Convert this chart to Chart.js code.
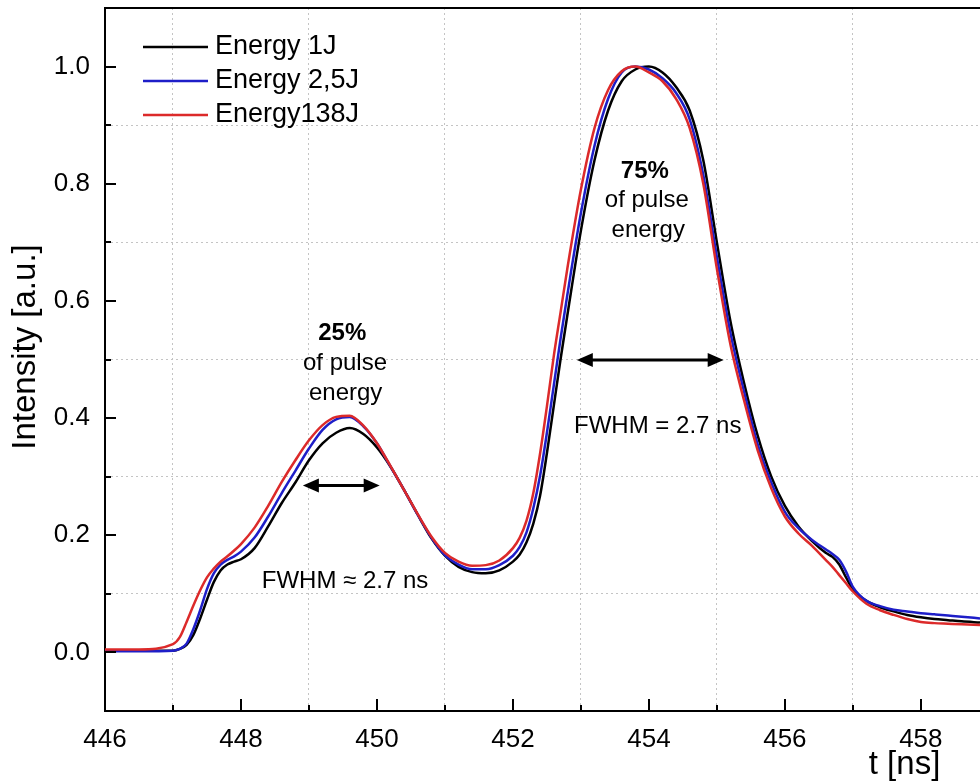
<!DOCTYPE html>
<html>
<head>
<meta charset="utf-8">
<script src="https://cdn.jsdelivr.net/npm/chart.js@4.4.1/dist/chart.umd.min.js"></script>
<style>
  html, body { margin: 0; padding: 0; background: #fff; overflow: hidden; }
  canvas { display: block; }
</style>
</head>
<body>
<canvas id="pulse" width="980" height="781"></canvas>
<script>
// Time axis of the scope traces, ns
const times = [
  446.0, 446.5, 447.0, 447.1, 447.2, 447.3, 447.4, 447.5, 447.6, 447.7, 447.8, 447.9,
  448.0, 448.2, 448.4, 448.6, 448.8, 449.0, 449.2, 449.4, 449.6, 449.8,
  450.0, 450.2, 450.4, 450.6, 450.8, 451.0, 451.2, 451.4, 451.6, 451.8,
  452.0, 452.1, 452.2, 452.3, 452.4, 452.5, 452.6, 452.7, 452.8, 453.0, 453.2, 453.4, 453.6, 453.8,
  454.0, 454.2, 454.4, 454.6, 454.8, 455.0, 455.2, 455.4, 455.6, 455.8,
  456.0, 456.2, 456.4, 456.6, 456.7, 456.8, 456.9, 457.0, 457.2, 457.4, 457.6, 457.8,
  458.0, 458.2, 458.4, 458.6, 458.87
];

// Normalised intensity, one array per pulse energy
const energy1J = [
  0.003, 0.003, 0.003, 0.006, 0.013, 0.030, 0.058, 0.090, 0.120, 0.140, 0.150, 0.155,
  0.159, 0.178, 0.215, 0.255, 0.290, 0.328, 0.357, 0.375, 0.383, 0.373,
  0.350, 0.317, 0.277, 0.235, 0.195, 0.165, 0.146, 0.137, 0.135, 0.140,
  0.155, 0.167, 0.188, 0.220, 0.268, 0.340, 0.420, 0.500, 0.575, 0.720, 0.840, 0.925, 0.975, 0.995,
  1.000, 0.990, 0.965, 0.925, 0.840, 0.700, 0.565, 0.460, 0.370, 0.300,
  0.250, 0.215, 0.190, 0.170, 0.163, 0.150, 0.128, 0.108, 0.088, 0.077, 0.070, 0.064,
  0.060, 0.057, 0.055, 0.053, 0.051
];
const energy2_5J = [
  0.002, 0.002, 0.003, 0.006, 0.015, 0.040, 0.072, 0.108, 0.135, 0.150, 0.158, 0.164,
  0.172, 0.196, 0.232, 0.272, 0.310, 0.348, 0.380, 0.398, 0.402, 0.386,
  0.357, 0.317, 0.277, 0.235, 0.196, 0.166, 0.150, 0.142, 0.142, 0.149,
  0.165, 0.180, 0.205, 0.246, 0.302, 0.375, 0.455, 0.535, 0.610, 0.750, 0.865, 0.945, 0.990, 1.000,
  0.995, 0.980, 0.955, 0.910, 0.815, 0.675, 0.545, 0.445, 0.355, 0.290,
  0.240, 0.212, 0.192, 0.176, 0.168, 0.158, 0.138, 0.112, 0.088, 0.079, 0.073, 0.070,
  0.067, 0.065, 0.063, 0.061, 0.058
];
const energy138J = [
  0.005, 0.005, 0.014, 0.026, 0.052, 0.080, 0.106, 0.128, 0.143, 0.155, 0.164, 0.174,
  0.185, 0.213, 0.250, 0.291, 0.328, 0.362, 0.388, 0.402, 0.404, 0.387,
  0.357, 0.318, 0.277, 0.236, 0.198, 0.170, 0.155, 0.148, 0.149, 0.157,
  0.178, 0.196, 0.225, 0.272, 0.340, 0.420, 0.505, 0.580, 0.655, 0.790, 0.895, 0.960, 0.992, 1.000,
  0.990, 0.975, 0.945, 0.895, 0.800, 0.655, 0.525, 0.430, 0.345, 0.280,
  0.232, 0.203, 0.182, 0.158, 0.146, 0.132, 0.118, 0.104, 0.083, 0.072, 0.064, 0.057,
  0.052, 0.050, 0.049, 0.048, 0.047
];

const seriesLabels = ['Energy 1J', 'Energy 2,5J', 'Energy138J'];

// Tick positions: even ns / even tenths are labelled, the others are minor
const xTickValues = [446, 447, 448, 449, 450, 451, 452, 453, 454, 455, 456, 457, 458];
const yTickValues = [0.0, 0.1, 0.2, 0.3, 0.4, 0.5, 0.6, 0.7, 0.8, 0.9, 1.0];

// Text notes and FWHM arrows, in data units
const notes = [
  { text: '25%', x: 449.49, y: 0.545, bold: true },
  { text: 'of pulse', x: 449.53, y: 0.494 },
  { text: 'energy', x: 449.54, y: 0.443 },
  { text: 'FWHM \u2248 2.7 ns', x: 449.53, y: 0.121 },
  { text: '75%', x: 453.94, y: 0.821, bold: true },
  { text: 'of pulse', x: 453.97, y: 0.771 },
  { text: 'energy', x: 453.99, y: 0.720 },
  { text: 'FWHM = 2.7 ns', x: 454.13, y: 0.385 }
];
const fwhmArrows = [
  { from: 448.91, to: 450.04, level: 0.285 },
  { from: 452.94, to: 455.10, level: 0.499 }
];

const FONT = '"Liberation Sans", Arial, Helvetica, sans-serif';
const colors = ['#000000', '#1e1ec8', '#dc2a2a'];
const seriesData = [energy1J, energy2_5J, energy138J];

const datasets = seriesData.map((vals, i) => ({
  label: seriesLabels[i],
  data: times.map((t, k) => ({ x: t, y: vals[k] })),
  borderColor: colors[i],
  backgroundColor: colors[i],
  borderWidth: 2.5,
  pointRadius: 0,
  cubicInterpolationMode: 'monotone',
  fill: false,
  order: 2 - i
}));

function drawArrowHead(ctx, x, y, dir) {
  ctx.beginPath();
  ctx.moveTo(x, y);
  ctx.lineTo(x - dir * 16, y - 7);
  ctx.lineTo(x - dir * 16, y + 7);
  ctx.closePath();
  ctx.fill();
}

const decorations = {
  id: 'decorations',
  afterDraw(chart) {
    const { ctx, chartArea: a, scales: { x, y } } = chart;
    ctx.save();
    ctx.strokeStyle = '#000';
    ctx.fillStyle = '#000';
    ctx.lineWidth = 2;

    // top frame line
    ctx.beginPath();
    ctx.moveTo(a.left - 1, a.top);
    ctx.lineTo(a.right, a.top);
    ctx.stroke();

    // inward tick marks
    xTickValues.forEach((v, i) => {
      const px = Math.round(x.getPixelForValue(v));
      const len = i % 2 === 0 ? 12 : 6;
      ctx.beginPath();
      ctx.moveTo(px, a.bottom);
      ctx.lineTo(px, a.bottom - len);
      ctx.stroke();
    });
    yTickValues.forEach((v, i) => {
      const py = Math.round(y.getPixelForValue(v));
      const len = i % 2 === 0 ? 11 : 6;
      ctx.beginPath();
      ctx.moveTo(a.left, py);
      ctx.lineTo(a.left + len, py);
      ctx.stroke();
    });

    // legend
    ctx.textAlign = 'left';
    ctx.textBaseline = 'middle';
    ctx.font = '27px ' + FONT;
    chart.data.datasets.forEach((ds, i) => {
      const ly = a.top + 39 + i * 34;
      const lx = a.left + 38;
      ctx.strokeStyle = ds.borderColor;
      ctx.lineWidth = 2.5;
      ctx.beginPath();
      ctx.moveTo(lx, ly);
      ctx.lineTo(lx + 65, ly);
      ctx.stroke();
      ctx.fillStyle = '#000';
      ctx.fillText(ds.label, lx + 72, ly);
    });

    // notes
    ctx.textAlign = 'center';
    ctx.textBaseline = 'middle';
    ctx.fillStyle = '#000';
    notes.forEach(n => {
      ctx.font = (n.bold ? 'bold ' : '') + '24px ' + FONT;
      ctx.fillText(n.text, x.getPixelForValue(n.x), y.getPixelForValue(n.y));
    });

    // FWHM arrows
    ctx.strokeStyle = '#000';
    ctx.lineWidth = 3;
    fwhmArrows.forEach(ar => {
      const x1 = x.getPixelForValue(ar.from);
      const x2 = x.getPixelForValue(ar.to);
      const py = y.getPixelForValue(ar.level);
      ctx.beginPath();
      ctx.moveTo(x1 + 10, py);
      ctx.lineTo(x2 - 10, py);
      ctx.stroke();
      drawArrowHead(ctx, x1, py, -1);
      drawArrowHead(ctx, x2, py, 1);
    });

    // axis titles
    ctx.font = '33px ' + FONT;
    ctx.textAlign = 'center';
    ctx.textBaseline = 'alphabetic';
    ctx.fillText('t [ns]', x.getPixelForValue(457.76), a.bottom + 63);

    ctx.save();
    ctx.translate(26, 347);
    ctx.rotate(-Math.PI / 2);
    ctx.textBaseline = 'middle';
    ctx.fillText('Intensity [a.u.]', 0, 0);
    ctx.restore();

    ctx.restore();
  }
};

const gridColor = (ctx) => {
  const idx = ctx.index;
  return (idx % 2 === 1) ? '#c4c4c4' : 'rgba(0,0,0,0)';
};

new Chart(document.getElementById('pulse'), {
  type: 'line',
  data: { datasets },
  options: {
    responsive: false,
    animation: false,
    devicePixelRatio: 1,
    events: [],
    parsing: true,
    layout: { padding: { top: 8, right: 0, bottom: 0, left: 0 } },
    plugins: { legend: { display: false }, tooltip: { enabled: false } },
    scales: {
      x: {
        type: 'linear',
        min: 446,
        max: 458.87,
        afterBuildTicks: s => { s.ticks = xTickValues.map(v => ({ value: v })); },
        afterFit: s => { s.height = 70; s.paddingLeft = 0; s.paddingRight = 0; s.paddingTop = 0; s.paddingBottom = 0; },
        ticks: {
          autoSkip: false,
          maxRotation: 0,
          padding: 13,
          color: '#000',
          font: { family: FONT, size: 26 },
          callback: (v, i) => (i % 2 === 0 ? String(v) : '')
        },
        grid: { drawTicks: false, color: gridColor, lineWidth: 1 },
        border: { display: true, color: '#000', width: 2, dash: [2, 3] }
      },
      y: {
        type: 'linear',
        min: -0.1,
        max: 1.1,
        afterBuildTicks: s => { s.ticks = yTickValues.map(v => ({ value: v })); },
        afterFit: s => { s.width = 105; s.paddingLeft = 0; s.paddingRight = 0; s.paddingTop = 0; s.paddingBottom = 0; },
        ticks: {
          autoSkip: false,
          padding: 15,
          color: '#000',
          font: { family: FONT, size: 26 },
          callback: (v, i) => (i % 2 === 0 ? Number(v).toFixed(1) : '')
        },
        grid: { drawTicks: false, color: gridColor, lineWidth: 1 },
        border: { display: true, color: '#000', width: 2, dash: [2, 3] }
      }
    }
  },
  plugins: [decorations]
});
</script>
</body>
</html>
